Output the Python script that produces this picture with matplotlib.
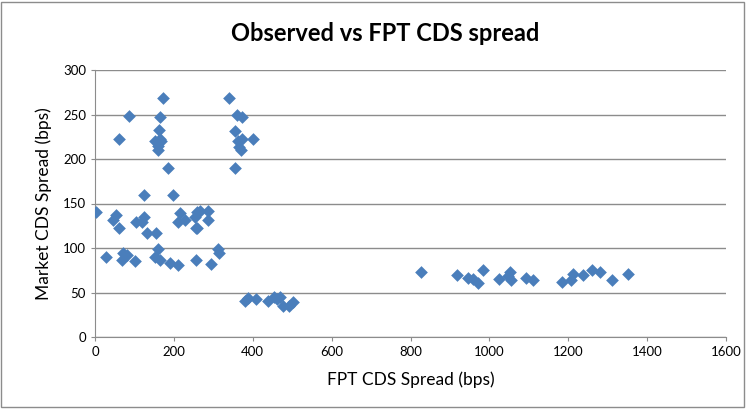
import matplotlib
matplotlib.use("Agg")
import matplotlib.pyplot as plt
from matplotlib.patches import Rectangle

plt.rcParams['font.family'] = ['Lato', 'DejaVu Sans']

# FPT model spread (x) vs market spread (y), bps
fpt = [173, 87, 166, 162, 62, 153, 160, 165, 160, 168, 184,
       124, 199, 3, 53, 45, 61, 104, 123, 118, 133, 155,
       216, 211, 228, 258, 256, 28, 72, 68, 80, 101,
       161, 152, 165, 190, 211, 256, 266, 287, 254, 287, 258,
       313, 315, 293,
       341, 361, 372, 355, 363, 372, 400, 366, 369, 355,
       380, 388, 408, 439, 454, 469, 462, 477, 492, 503,
       826, 917, 947, 958, 972, 985, 1025, 1052, 1056, 1048,
       1093, 1111, 1183, 1208, 1213, 1238, 1259, 1280, 1312, 1352]
market = [268, 248, 247, 233, 223, 220, 215, 222, 210, 220, 190,
          160, 160, 141, 137, 132, 122, 129, 135, 129, 117, 117,
          139, 129, 131, 140, 122, 90, 94, 86, 92, 85,
          99, 90, 86, 83, 81, 87, 142, 142, 135, 132, 122,
          99, 94, 82,
          269, 249, 247, 232, 220, 222, 223, 213, 210, 190,
          41, 44, 43, 41, 45, 45, 43, 35, 35, 39,
          73, 70, 66, 65, 61, 75, 65, 73, 64, 69,
          66, 64, 62, 64, 71, 70, 75, 73, 64, 71]

fig = plt.figure(figsize=(7.47, 4.09), dpi=100)
ax = fig.add_axes([95 / 747, 1 - 337 / 409, 631 / 747, 267 / 409])

ax.scatter(fpt, market, marker='D', s=42, color='#4A7EBB', linewidths=0, zorder=3)

ax.set_xlim(0, 1600)
ax.set_ylim(0, 300)
ax.set_xticks(range(0, 1601, 200))
ax.set_yticks(range(0, 301, 50))
ax.yaxis.grid(True, color='#8c8c8c', linewidth=1)
ax.set_axisbelow(True)
for side in ['top', 'right']:
    ax.spines[side].set_visible(False)
for side in ['left', 'bottom']:
    ax.spines[side].set_color('#8c8c8c')
ax.tick_params(colors='#8c8c8c', labelcolor='black', labelsize=9.5, length=3)

ax.set_xlabel('FPT CDS Spread (bps)', fontsize=12.5, labelpad=10)
ax.set_ylabel('Market CDS Spread (bps)', fontsize=12.5, labelpad=8)
fig.suptitle('Observed vs FPT CDS spread', fontsize=17, fontweight='bold', x=0.515, y=0.945)

# chart area border
fig.patches.append(Rectangle((0.002, 0.004), 0.994, 0.992, transform=fig.transFigure,
                             fill=False, edgecolor='#8c8c8c', linewidth=1))

fig.savefig('out.png', dpi=100)
